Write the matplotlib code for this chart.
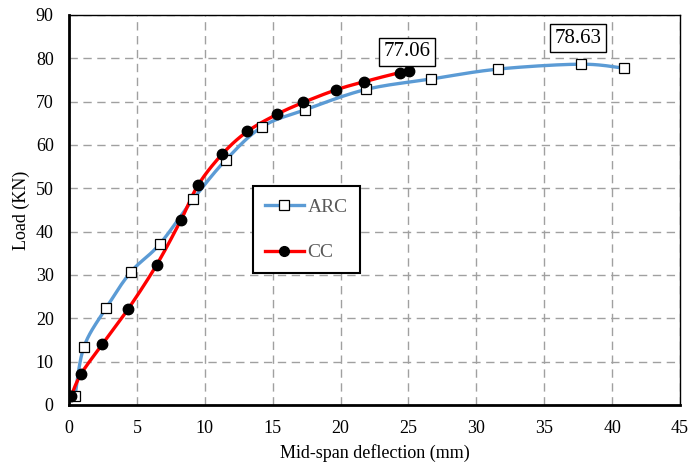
import numpy as np
import matplotlib
matplotlib.use("Agg")
import matplotlib.pyplot as plt

arc_x = [0.44, 1.1, 2.72, 4.56, 6.68, 9.15, 11.54, 14.23, 17.38, 21.87, 26.66, 31.61, 37.68, 40.87]
arc_y = [2.0, 13.4, 22.3, 30.7, 37.1, 47.5, 56.5, 64.2, 68.1, 72.8, 75.2, 77.5, 78.63, 77.7]
cc_x = [0.15, 0.88, 2.45, 4.37, 6.45, 8.25, 9.52, 11.29, 13.13, 15.34, 17.25, 19.66, 21.75, 24.37, 25.06]
cc_y = [2.0, 7.1, 14.0, 22.2, 32.3, 42.7, 50.8, 57.9, 63.1, 67.1, 69.8, 72.7, 74.6, 76.7, 77.06]
peak_labels = ["77.06", "78.63"]
x_ticks = [0, 5, 10, 15, 20, 25, 30, 35, 40, 45]
y_ticks = [0, 10, 20, 30, 40, 50, 60, 70, 80, 90]


def smooth(xs, ys, n=20):
    # Excel-like smoothed line (Catmull-Rom Bezier through the data points)
    p = np.column_stack([xs, ys]).astype(float)
    pts = [p[0]]
    for i in range(len(p) - 1):
        p0 = p[i - 1] if i > 0 else p[i]
        p1 = p[i]
        p2 = p[i + 1]
        p3 = p[i + 2] if i + 2 < len(p) else p[i + 1]
        c1 = p1 + (p2 - p0) / 6.0
        c2 = p2 - (p3 - p1) / 6.0
        t = np.linspace(0, 1, n)[1:, None]
        seg = ((1 - t) ** 3) * p1 + 3 * ((1 - t) ** 2) * t * c1 + 3 * (1 - t) * t ** 2 * c2 + t ** 3 * p2
        pts.extend(seg)
    pts = np.array(pts)
    return pts[:, 0], pts[:, 1]


plt.rcParams['font.family'] = ['Liberation Serif', 'DejaVu Serif']

fig = plt.figure(figsize=(6.9, 4.66), dpi=100)
ax = fig.add_axes([0.1, 0.131, 0.8855, 0.837])

blue = '#5B9BD5'
red = '#FF0000'

sx, sy = smooth(arc_x, arc_y)
ax.plot(sx, sy, color=blue, lw=2.4, zorder=3)
ax.plot(arc_x, arc_y, ls='none', marker='s', ms=7, mfc='white', mec='black', mew=0.9, zorder=4)
sx, sy = smooth(cc_x, cc_y)
ax.plot(sx, sy, color=red, lw=2.4, zorder=3)
ax.plot(cc_x, cc_y, ls='none', marker='o', ms=7.5, mfc='black', mec='black', zorder=4)

# legend proxies
h1, = ax.plot([], [], color=blue, lw=2.4, marker='s', ms=6.5, mfc='white', mec='black', mew=0.9, label='ARC')
h2, = ax.plot([], [], color=red, lw=2.4, marker='o', ms=7, mfc='black', mec='black', label='CC')
leg = ax.legend(handles=[h1, h2], loc='upper left', bbox_to_anchor=(0.3006, 0.5615), frameon=True,
                fancybox=False, edgecolor='black', framealpha=1, fontsize=14, labelcolor='#595959',
                handlelength=2.0, handletextpad=0.2, labelspacing=1.45, borderpad=0.62,
                borderaxespad=0)
leg.get_frame().set_linewidth(1.5)
leg.set_zorder(6)

box = dict(boxstyle='square,pad=0.22', fc='white', ec='black', lw=1.0)
ax.text(24.9, 81.5, peak_labels[0], fontsize=15, ha='center', va='center', bbox=box, zorder=6)
ax.text(37.5, 84.6, peak_labels[1], fontsize=15, ha='center', va='center', bbox=box, zorder=6)

ax.set_xlim(0, 45)
ax.set_ylim(0, 90)
ax.set_xticks(x_ticks)
ax.set_yticks(y_ticks)
ax.tick_params(length=0, labelsize=13, colors='black')
ax.tick_params(axis='x', pad=11)
ax.tick_params(axis='y', pad=11)
ax.grid(True, ls=(0, (6, 4)), color='#a0a0a0', lw=1.0, zorder=1)
ax.set_axisbelow(True)

for s in ['top', 'right']:
    ax.spines[s].set_linewidth(1.0)
for s in ['left', 'bottom']:
    ax.spines[s].set_linewidth(2.0)

ax.set_xlabel('Mid-span deflection (mm)', fontsize=13, labelpad=5)
ax.set_ylabel('Load (KN)', fontsize=13, labelpad=4)

fig.savefig('out.png', dpi=100)
